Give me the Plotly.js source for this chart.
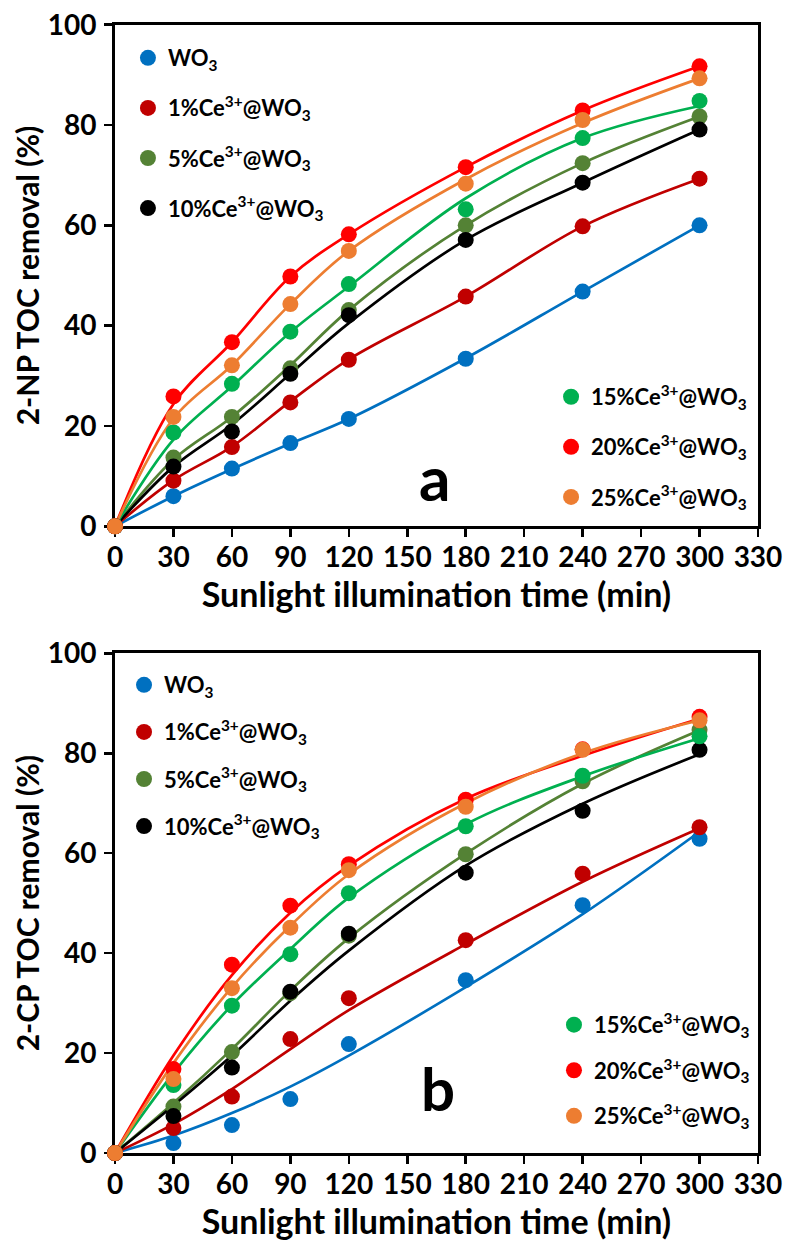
<!DOCTYPE html>
<html>
<head>
<meta charset="utf-8">
<script src="https://cdn.plot.ly/plotly-3.0.1.min.js"></script>
<style>html,body{margin:0;padding:0;background:#fff;}#chart{width:785px;height:1254px;}</style>
</head>
<body>
<div id="chart"></div>
<script>
// ---------- data ----------
const timeMin = [0, 30, 60, 90, 120, 180, 240, 300];

const seriesNames = ['WO<sub>3</sub>', '1%Ce<sup>3+</sup>@WO<sub>3</sub>', '5%Ce<sup>3+</sup>@WO<sub>3</sub>',
  '10%Ce<sup>3+</sup>@WO<sub>3</sub>', '15%Ce<sup>3+</sup>@WO<sub>3</sub>', '20%Ce<sup>3+</sup>@WO<sub>3</sub>',
  '25%Ce<sup>3+</sup>@WO<sub>3</sub>'];

// Panel a: 2-NP TOC removal (%) - measured points
const a_WO3 = [0, 6.0, 11.5, 16.6, 21.4, 33.4, 46.8, 60.0];
const a_Ce1 = [0, 9.1, 15.8, 24.7, 33.2, 45.8, 59.8, 69.3];
const a_Ce5 = [0, 13.7, 21.8, 31.5, 43.1, 60.0, 72.4, 81.7];
const a_Ce10 = [0, 11.9, 18.9, 30.4, 42.1, 57.1, 68.5, 79.1];
const a_Ce15 = [0, 18.7, 28.4, 38.8, 48.3, 63.2, 77.4, 84.8];
const a_Ce20 = [0, 25.9, 36.7, 49.8, 58.2, 71.6, 82.9, 91.7];
const a_Ce25 = [0, 21.8, 32.1, 44.3, 54.9, 68.3, 81.0, 89.3];
// Panel a: fitted curves
const a_WO3_fit = [0, 6.0, 11.4, 16.5, 21.4, 33.5, 46.8, 60.0];
const a_Ce1_fit = [0, 9.2, 15.9, 24.9, 33.3, 45.8, 59.8, 69.3];
const a_Ce5_fit = [0, 13.3, 21.8, 32.1, 43.1, 60.0, 72.4, 81.7];
const a_Ce10_fit = [0, 11.9, 20.3, 30.4, 40.5, 57.1, 68.5, 79.1];
const a_Ce15_fit = [0, 17.3, 27.9, 38.7, 47.8, 65.4, 77.4, 83.8];
const a_Ce20_fit = [0, 24.4, 36.7, 49.8, 58.2, 71.6, 82.9, 91.7];
const a_Ce25_fit = [0, 21.5, 32.1, 44.3, 54.9, 69.2, 80.4, 89.3];

// Panel b: 2-CP TOC removal (%) - measured points
const b_WO3 = [0, 2.0, 5.6, 10.8, 21.8, 34.6, 49.6, 62.9];
const b_Ce1 = [0, 5.0, 11.3, 22.8, 31.0, 42.6, 55.9, 65.2];
const b_Ce5 = [0, 9.3, 20.2, 32.0, 43.5, 59.8, 74.4, 84.7];
const b_Ce10 = [0, 7.4, 17.1, 32.3, 43.9, 56.1, 68.5, 80.7];
const b_Ce15 = [0, 13.6, 29.5, 39.8, 52.0, 65.4, 75.5, 83.4];
const b_Ce20 = [0, 16.8, 37.7, 49.5, 57.8, 70.7, 80.8, 87.3];
const b_Ce25 = [0, 14.8, 33.0, 45.1, 56.6, 69.3, 80.7, 86.6];
// Panel b: fitted curves
const b_WO3_fit = [0, 3.5, 8.0, 13.3, 19.5, 33.2, 47.8, 64.3];
const b_Ce1_fit = [0, 5.8, 12.8, 20.8, 28.6, 41.8, 54.3, 65.0];
const b_Ce5_fit = [0, 10.0, 20.8, 32.5, 43.0, 59.9, 73.9, 84.6];
const b_Ce10_fit = [0, 9.5, 19.5, 30.5, 40.5, 57.5, 69.9, 79.8];
const b_Ce15_fit = [0, 16.0, 29.6, 40.8, 51.1, 65.8, 75.4, 83.0];
const b_Ce20_fit = [0, 19.5, 35.6, 48.1, 57.5, 70.9, 79.5, 86.9];
const b_Ce25_fit = [0, 18.0, 33.2, 45.5, 55.8, 70.0, 80.0, 86.6];

const xTickVals = [0, 30, 60, 90, 120, 150, 180, 210, 240, 270, 300, 330];
const yTickVals = [0, 20, 40, 60, 80, 100];

// ---------- styling ----------
const colors = ['#0070C0', '#C00000', '#548235', '#000000', '#00B050', '#FF0000', '#ED7D31'];
const FONT = 'Lato, "Open Sans", sans-serif';

const panelA = [a_WO3, a_Ce1, a_Ce5, a_Ce10, a_Ce15, a_Ce20, a_Ce25];
const panelAFit = [a_WO3_fit, a_Ce1_fit, a_Ce5_fit, a_Ce10_fit, a_Ce15_fit, a_Ce20_fit, a_Ce25_fit];
const panelB = [b_WO3, b_Ce1, b_Ce5, b_Ce10, b_Ce15, b_Ce20, b_Ce25];
const panelBFit = [b_WO3_fit, b_Ce1_fit, b_Ce5_fit, b_Ce10_fit, b_Ce15_fit, b_Ce20_fit, b_Ce25_fit];

const traces = [];
function addPanel(points, fits, xa, ya, legTop, legBottom, tag) {
  fits.forEach((f, i) => {
    traces.push({
      x: timeMin, y: f, xaxis: xa, yaxis: ya, mode: 'lines', type: 'scatter',
      line: {color: colors[i], width: 2.7, shape: 'spline', smoothing: 1},
      showlegend: false, hoverinfo: 'skip'
    });
  });
  points.forEach((p, i) => {
    traces.push({
      x: timeMin, y: p, xaxis: xa, yaxis: ya, mode: 'markers', type: 'scatter',
      name: seriesNames[i], cliponaxis: false,
      marker: {color: colors[i], size: 16},
      legend: i < 4 ? legTop : legBottom, legendgroup: tag + i
    });
  });
}
addPanel(panelA, panelAFit, 'x', 'y', 'legend', 'legend2', 'a');
addPanel(panelB, panelBFit, 'x2', 'y2', 'legend3', 'legend4', 'b');

const tickFont = {family: FONT, size: 28, color: '#000', weight: 'bold'};
const titleFont = {family: FONT, size: 34, color: '#000', weight: 'bold'};

function xAxis(anchor, standoff) {
  return {
    domain: [0.1465, 0.9656], anchor: anchor, range: [0, 330],
    tickvals: xTickVals, ticktext: xTickVals.map(String),
    ticks: 'outside', ticklen: 8, tickwidth: 2.5, tickcolor: '#000',
    ticklabelstandoff: -4,
    showline: true, linewidth: 3, linecolor: '#000', mirror: true,
    showgrid: false, zeroline: false, layer: 'below traces',
    tickfont: tickFont,
    title: {text: 'Sunlight illumination time (min)', font: titleFont, standoff: standoff}
  };
}
function yAxis(anchor, domain, title) {
  return {
    domain: domain, anchor: anchor, range: [0, 100],
    tickvals: yTickVals, ticktext: yTickVals.map(String),
    ticks: 'outside', ticklen: 8, tickwidth: 2.5, tickcolor: '#000',
    ticklabelstandoff: 2,
    showline: true, linewidth: 3, linecolor: '#000', mirror: true,
    showgrid: false, zeroline: false, layer: 'below traces',
    tickfont: tickFont,
    title: {text: title, font: {family: FONT, size: 30, color: '#000', weight: 'bold'}, standoff: 0}
  };
}
function legend(x, y, gap) {
  return {
    x: x, y: y, xanchor: 'left', yanchor: 'top', xref: 'paper', yref: 'paper',
    bgcolor: 'rgba(0,0,0,0)', borderwidth: 0, traceorder: 'grouped', tracegroupgap: gap,
    font: {family: FONT, size: 22, color: '#000', weight: 'bold'}
  };
}

const layout = {
  width: 785, height: 1254,
  margin: {l: 0, r: 0, t: 0, b: 0},
  paper_bgcolor: '#fff', plot_bgcolor: '#fff',
  showlegend: true,
  xaxis: xAxis('y', 4),
  yaxis: yAxis('x', [0.5803, 0.9803], '2-NP TOC removal (%)'),
  xaxis2: xAxis('y2', 9),
  yaxis2: yAxis('x2', [0.0805, 0.4790], '2-CP TOC removal (%)'),
  legend: legend(0.163, 0.9705, 18.5),
  legend2: legend(0.702, 0.7002, 18.5),
  legend3: legend(0.158, 0.4705, 15.5),
  legend4: legend(0.7057, 0.1995, 14),
  annotations: [
    {text: 'a', xref: 'paper', yref: 'paper', x: 0.554, y: 0.620, showarrow: false,
     font: {family: FONT, size: 62, color: '#000', weight: 'bold'}},
    {text: 'b', xref: 'paper', yref: 'paper', x: 0.558, y: 0.102, showarrow: false,
     font: {family: FONT, size: 60, color: '#000', weight: 'bold'}}
  ]
};

Plotly.newPlot('chart', traces, layout, {displayModeBar: false, staticPlot: true});
</script>
</body>
</html>
